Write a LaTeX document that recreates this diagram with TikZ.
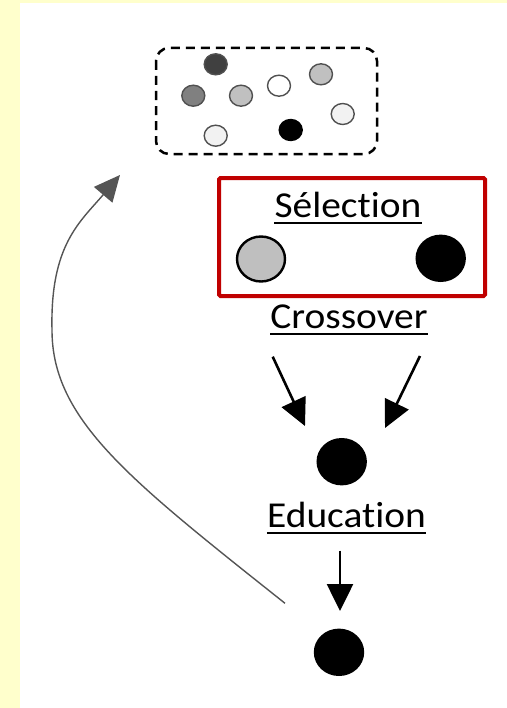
\documentclass[tikz,border=0pt]{standalone}
\usepackage{fontspec}
\setmainfont{Carlito}[FakeStretch=1.08, Ligatures=NoCommon]
\usetikzlibrary{arrows.meta,shapes.geometric}
\definecolor{paper}{HTML}{FFFFCC}
\definecolor{selred}{HTML}{C00000}
\definecolor{dotedge}{HTML}{505050}
\definecolor{loopgray}{HTML}{555555}
\begin{document}
\begin{tikzpicture}[x=1bp,y=-1bp,
  dot/.style={ellipse, minimum width=23bp, minimum height=21bp, inner sep=0pt,
              draw=dotedge, line width=1.4bp},
  ind/.style={ellipse, minimum width=48bp, minimum height=45bp, inner sep=0pt,
              draw=black, line width=2.4bp},
  lbl/.style={inner sep=0pt, anchor=base, font=\fontsize{36.5bp}{40bp}\selectfont},
  uline/.style={line width=1.8bp},
  flow/.style={line width=2.6bp, -{Triangle[length=27bp,width=26bp]}},
]
% page and margin strips
\useasboundingbox (0,0) rectangle (507,708);
\fill[white] (0,0) rectangle (507,708);
\fill[paper] (0,0) rectangle (20,708);
\fill[paper] (0,0) rectangle (507,3.3);

% population
\draw[line width=2.5bp, dash pattern=on 9bp off 6bp, rounded corners=13bp]
  (156,48) rectangle (377,154);
\node[dot, fill={rgb,255:red,64;green,64;blue,64}]   (p1) at (215.7,64.3) {};
\node[dot, fill={rgb,255:red,128;green,128;blue,128}] (p2) at (193.3,95.7) {};
\node[dot, fill={rgb,255:red,192;green,192;blue,192}] (p3) at (241,95.7) {};
\node[dot, fill=white]                                (p4) at (279,85.7) {};
\node[dot, fill={rgb,255:red,192;green,192;blue,192}] (p5) at (321,74.3) {};
\node[dot, fill={rgb,255:red,242;green,242;blue,242}] (p6) at (342.7,114) {};
\node[dot, fill=black, draw=black]                    (p7) at (290.7,130) {};
\node[dot, fill={rgb,255:red,242;green,242;blue,242}] (p8) at (215.7,135.7) {};

% selection
\draw[selred, line width=4bp, rounded corners=1.5bp] (219,178) rectangle (485,296);
\node[lbl] (lsel) at (348,217.3) {Sélection};
\draw[uline] ([yshift=-6bp]lsel.base west) -- ([yshift=-6bp]lsel.base east);
\node[ind, fill={rgb,255:red,191;green,191;blue,191}] (s1) at (261,259) {};
\node[ind, fill=black] (s2) at (440.7,258.3) {};

% crossover
\node[lbl] (lcross) at (349,328) {Crossover};
\draw[uline] ([yshift=-6bp]lcross.base west) -- ([yshift=-6bp]lcross.base east);
\coordinate (xa) at (272.7,356.7);
\coordinate (xat) at (305,426);
\coordinate (xb) at (420,356);
\coordinate (xbt) at (385,428);
\draw[flow] (xa) -- (xat);
\draw[flow] (xb) -- (xbt);
\node[ind, fill=black] (c) at (341.7,461.7) {};

% education
\node[lbl] (ledu) at (346.5,527.5) {Education};
\draw[uline] ([yshift=-5.5bp]ledu.base west) -- ([yshift=-5.5bp]ledu.base east);
\coordinate (ea) at (340,550.7);
\coordinate (eat) at (340,611);
\draw[flow] (ea) -- (eat);
\node[ind, fill=black] (e) at (339,652.3) {};

% back to the population
\coordinate (ls) at (285,603.3);
\coordinate (lm) at (52,330);
\coordinate (lt) at (120,175);
\draw[loopgray, line width=1.4bp, -{Triangle[length=26bp,width=24bp]}]
  (ls) .. controls (130,480) and (52,420) .. (lm)
       .. controls (50,245) and (80,222) .. (lt);
\end{tikzpicture}
\end{document}
